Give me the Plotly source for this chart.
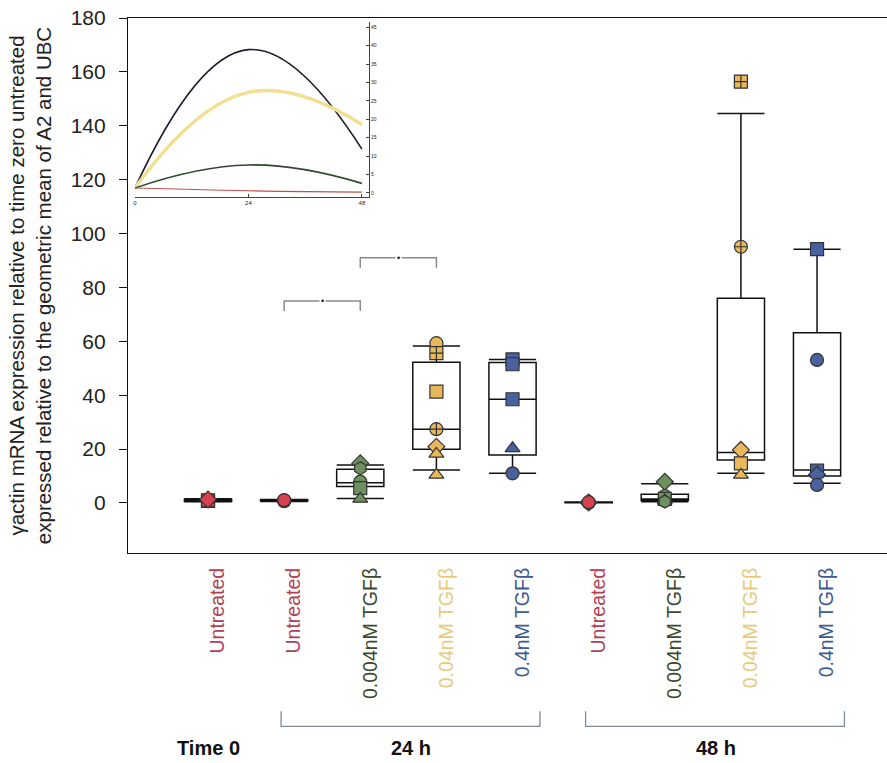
import plotly.graph_objects as go

# ---------------- data ----------------
categories = ["Untreated", "Untreated", "0.004nM TGF\u03b2", "0.04nM TGF\u03b2", "0.4nM TGF\u03b2",
              "Untreated", "0.004nM TGF\u03b2", "0.04nM TGF\u03b2", "0.4nM TGF\u03b2"]
treatment = ["u", "u", "lo", "mid", "hi", "u", "lo", "mid", "hi"]
positions = [0, 1, 2, 3, 4, 5, 6, 7, 8]

q1 = [0.6, 0.7, 6.1, 19.9, 17.8, 0.1, 0.9, 16.0, 10.0]
median = [1.0, 0.9, 7.5, 27.4, 38.5, 0.2, 1.5, 18.7, 12.2]
q3 = [1.4, 1.2, 12.5, 52.2, 52.1, 0.35, 3.2, 76.0, 63.2]
lowerfence = [0.5, 0.6, 1.7, 12.2, 11.0, 0.05, 0.5, 11.0, 7.3]
upperfence = [1.6, 1.3, 14.1, 58.3, 53.3, 0.4, 7.1, 144.6, 94.2]

points = [
    [0.8, 1.0, 1.3],
    [0.7, 0.9, 1.1],
    [14.7, 12.9, 7.9, 5.5, 1.5],
    [59.3, 55.6, 41.3, 27.4, 20.9, 18.2, 10.4],
    [53.3, 51.5, 38.5, 20.3, 11.0],
    [0.1, 0.2, 0.3],
    [7.9, 2.6, 1.5, 0.9, 0.5],
    [156.4, 95.1, 19.7, 14.7, 10.4],
    [94.2, 53.1, 12.0, 10.5, 6.7],
]
symbols = [
    ["square", "square", "diamond"],
    ["circle", "circle", "circle"],
    ["diamond", "hexagon", "circle", "square", "triangle-up"],
    ["circle", "square-cross", "square", "circle-cross", "diamond", "triangle-up", "triangle-up"],
    ["square", "square", "square", "triangle-up", "circle"],
    ["circle", "diamond", "circle"],
    ["diamond", "circle", "square", "triangle-up", "hexagon"],
    ["square-cross", "circle-cross", "diamond", "square", "triangle-up"],
    ["square", "circle", "square", "diamond", "circle"],
]

marker_colors = {"u": "#d8424e", "lo": "#6e8f5e", "mid": "#e8b85a", "hi": "#4a61a0"}
label_colors = {"u": "#b04254", "lo": "#3c4a2e", "mid": "#e9c97c", "hi": "#3d5b8e"}

groups = [("Time 0", [0]), ("24 h", [1, 2, 3, 4]), ("48 h", [5, 6, 7, 8])]
sig_pairs = [(1, 2, 75.0), (2, 3, 91.0)]

# inset data
inset_time = [0, 24, 48]
inset_series = [
    ("0.4nM", [1.35, 38.9, 11.9], "#1c1c2c", 1.6),
    ("0.04nM", [1.35, 27.3, 18.6], "#f1df92", 3.5),
    ("0.004nM", [1.35, 7.6, 2.6], "#2f4a2a", 1.6),
    ("Untreated", [1.35, 0.6, 0.2], "#c0504d", 1.2),
]
inset_yticks = [0, 5, 10, 15, 20, 25, 30, 35, 40, 45]

y_ticks = [0, 20, 40, 60, 80, 100, 120, 140, 160, 180]

# ---------------- figure ----------------
fig = go.Figure()

BOX_W = 0.62
for i, p in enumerate(positions):
    fig.add_trace(go.Box(
        x=[p], q1=[q1[i]], median=[median[i]], q3=[q3[i]],
        lowerfence=[lowerfence[i]], upperfence=[upperfence[i]],
        width=BOX_W, whiskerwidth=1, boxpoints=False,
        fillcolor="rgba(255,255,255,0)", line=dict(color="#111111", width=1.5),
        showlegend=False, hoverinfo="skip", xaxis="x", yaxis="y"))

for i, p in enumerate(positions):
    fig.add_trace(go.Scatter(
        x=[p] * len(points[i]), y=points[i], mode="markers",
        marker=dict(symbol=symbols[i], size=13, color=marker_colors[treatment[i]],
                    line=dict(color="#333333", width=1.2)),
        showlegend=False, xaxis="x", yaxis="y"))

for name, vals, col, w in inset_series:
    fig.add_trace(go.Scatter(
        x=inset_time, y=vals, mode="lines",
        line=dict(color=col, width=w, shape="spline", smoothing=1.3),
        showlegend=False, xaxis="x2", yaxis="y2"))

shapes = []
annotations = []

# significance brackets
for a, b, yv in sig_pairs:
    leg = 3.7
    shapes.append(dict(type="path", xref="x", yref="y",
                       path=f"M {positions[a]},{yv - leg} L {positions[a]},{yv} L {positions[b]},{yv} L {positions[b]},{yv - leg}",
                       line=dict(color="#8a8a8a", width=1.5)))
    annotations.append(dict(x=(positions[a] + positions[b]) / 2, y=yv, xref="x", yref="y",
                            text="\u2022", showarrow=False, font=dict(size=9, color="#111"),
                            bgcolor="white", borderpad=1))

# group brackets and labels
for gname, idxs in groups:
    x0 = positions[idxs[0]]
    x1 = positions[idxs[-1]]
    if len(idxs) > 1:
        shapes.append(dict(type="path", xref="x", yref="paper",
                           path=f"M {x0 - 0.04},-0.296 L {x0 - 0.04},-0.324 L {x1 + 0.36},-0.324 L {x1 + 0.36},-0.296",
                           line=dict(color="#7d8c98", width=1.3)))
        cx = (x0 + x1 + 0.34) / 2
    else:
        cx = x0
    annotations.append(dict(x=cx, y=-0.365, xref="x", yref="paper", text=f"<b>{gname}</b>",
                            showarrow=False, font=dict(size=20, color="#111",
                                                       family="Liberation Sans Narrow, Arial Narrow, Liberation Sans, Arial"),
                            yanchor="middle"))

annotations.append(dict(x=24, y=-6.2, xref="x2", yref="y2", text="<b>t i m e  h</b>", showarrow=False,
                        font=dict(size=6, color="#222")))

ticktext = [f'<span style="color:{label_colors[t]}">{c}</span>' for c, t in zip(categories, treatment)]

fig.update_layout(
    width=887, height=763,
    margin=dict(l=128, r=0, t=18, b=210),
    paper_bgcolor="white", plot_bgcolor="white",
    font=dict(family="Liberation Sans, Arial, sans-serif", color="#222"),
    xaxis=dict(range=[-1.051, 8.919], tickvals=positions, ticktext=ticktext, tickangle=-90,
               ticks="", showline=True, linecolor="#111", linewidth=1.2, mirror=True,
               showgrid=False, zeroline=False, tickfont=dict(size=19.5),
               ticklabelstandoff=6, ticklabelshift=10),
    yaxis=dict(range=[-18.56, 180], tickvals=y_ticks, ticks="outside", ticklen=8,
               tickcolor="#111", showline=True, linecolor="#111", linewidth=1.2,
               showgrid=False, zeroline=False, tickfont=dict(size=21), ticklabelstandoff=9,
               title=dict(text="\u03b3actin mRNA expression relative to time zero untreated<br>"
                               "expressed relative to the geometric mean of A2 and UBC",
                          font=dict(size=20.5), standoff=13)),
    xaxis2=dict(domain=[0.0092, 0.3175], range=[0, 49.5], anchor="y2",
                tickvals=inset_time, ticktext=[str(t) for t in inset_time],
                tickfont=dict(size=6, color="#222"), ticks="inside", ticklen=3,
                showline=True, linecolor="#444", linewidth=0.8, showgrid=False, zeroline=False),
    yaxis2=dict(domain=[0.6654, 0.9925], range=[-1.1, 46.4], anchor="x2", side="right",
                tickvals=inset_yticks, tickfont=dict(size=5, color="#222"), ticks="inside", ticklen=3,
                showline=True, linecolor="#444", linewidth=0.8, showgrid=False, zeroline=False),
    shapes=shapes, annotations=annotations,
)

fig.write_html("out.html")
